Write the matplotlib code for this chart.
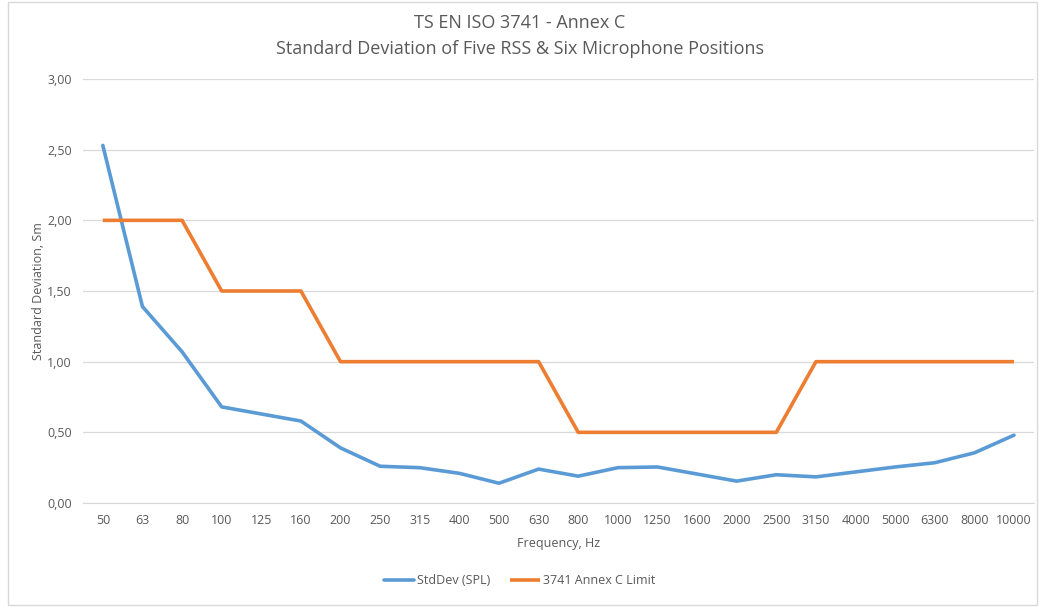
import matplotlib.pyplot as plt
import numpy as np
from matplotlib.patches import Rectangle

# frequency bands
freqs = ["50", "63", "80", "100", "125", "160", "200", "250", "315", "400", "500", "630",
         "800", "1000", "1250", "1600", "2000", "2500", "3150", "4000", "5000", "6300", "8000", "10000"]
# measured standard deviation
std_spl = [2.53, 1.39, 1.07, 0.68, 0.63, 0.58, 0.39, 0.26, 0.25, 0.21, 0.14, 0.24,
           0.19, 0.25, 0.255, 0.205, 0.155, 0.20, 0.185, 0.22, 0.255, 0.285, 0.355, 0.48]
# annex C limit
limit = [2.0, 2.0, 2.0, 1.5, 1.5, 1.5, 1.0, 1.0, 1.0, 1.0, 1.0, 1.0,
         0.5, 0.5, 0.5, 0.5, 0.5, 0.5, 1.0, 1.0, 1.0, 1.0, 1.0, 1.0]

plt.rcParams['font.family'] = ['Open Sans', 'DejaVu Sans']
grey = '#595959'

fig = plt.figure(figsize=(10.39, 6.07), dpi=100)
ax = fig.add_axes([0.0799, 0.1713, 0.9151, 0.6986])

x = np.arange(len(freqs))
ax.plot(x, std_spl, color='#5B9BD5', lw=2.6, label='StdDev (SPL)', solid_capstyle='round')
ax.plot(x, limit, color='#ED7D31', lw=2.6, label='3741 Annex C Limit', solid_capstyle='butt')

ax.set_xlim(-0.5, len(freqs) - 0.5)
ax.set_ylim(0, 3)
ax.set_xticks(x)
ax.set_xticklabels(freqs)
yt = np.arange(0, 3.01, 0.5)
ax.set_yticks(yt)
ax.set_yticklabels([f"{v:.2f}".replace('.', ',') for v in yt])
ax.tick_params(length=0, labelsize=9, colors=grey, pad=8)
ax.grid(axis='y', color='#d9d9d9', lw=0.9)
ax.set_axisbelow(True)
for s in ['top', 'right', 'left']:
    ax.spines[s].set_visible(False)
ax.spines['bottom'].set_color('#d9d9d9')

ax.set_xlabel('Frequency, Hz', fontsize=9, color=grey, labelpad=7)
ax.set_ylabel('Standard Deviation, Sm', fontsize=9, color=grey, labelpad=2)
fig.text(0.5, 0.962, 'TS EN ISO 3741 - Annex C', ha='center', va='center', fontsize=13, color=grey)
fig.text(0.5, 0.92, 'Standard Deviation of Five RSS & Six Microphone Positions', ha='center', va='center',
         fontsize=13, color=grey)

fig.legend(loc='center', bbox_to_anchor=(0.5, 0.043), ncol=2, frameon=False, fontsize=9,
           labelcolor=grey, handlelength=2.4, handletextpad=0.25, columnspacing=1.6)

fig.patches.append(Rectangle((0.008, 0.003), 0.99, 0.994, transform=fig.transFigure,
                             fill=False, edgecolor='#d9d9d9', lw=1))

fig.savefig('out.png', dpi=100)
